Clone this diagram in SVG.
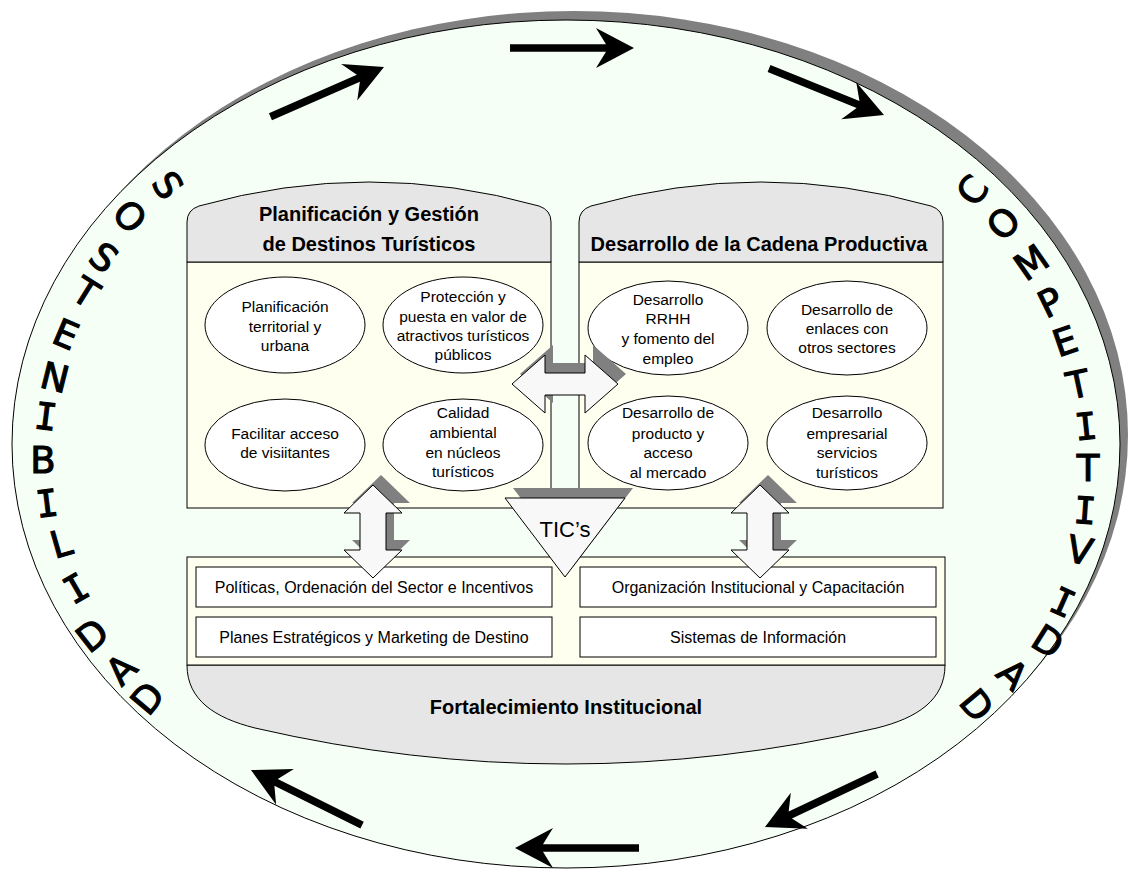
<svg xmlns="http://www.w3.org/2000/svg" width="1129" height="870" viewBox="0 0 1129 870">
<style>
.ln{stroke:#000;stroke-width:1}
.hdr{fill:#E6E6E6;stroke:#000;stroke-width:1}
.body{fill:#FFFFEF;stroke:#000;stroke-width:1}
.ell{fill:#FFFFFF;stroke:#000;stroke-width:1}
.box{fill:#FFFFFF;stroke:#000;stroke-width:1}
.shd{fill:#808080;stroke:none}
.arw{fill:#F8F8F8;stroke:#000;stroke-width:1}
.t{font-family:"Liberation Sans",Arial,sans-serif;font-size:15.5px;fill:#000;text-anchor:middle}
.tb{font-family:"Liberation Sans",Arial,sans-serif;font-size:16px;fill:#000;text-anchor:middle}
.title{font-family:"Liberation Sans",Arial,sans-serif;font-size:20px;font-weight:bold;fill:#000;text-anchor:middle}
.big{font-family:"DejaVu Sans",Verdana,sans-serif;font-size:37px;fill:#000;stroke:#000;stroke-width:1.1;text-anchor:middle}
.bigI{font-family:"DejaVu Sans Mono",monospace;font-size:37px;fill:#000;stroke:#000;stroke-width:1.1;text-anchor:middle}
.blk{fill:#000;stroke:none}
</style>
<defs>
<path id="ringArrow" d="M0,0 L-38,-20 L-28,-3.8 L-124,-3.8 L-124,3.8 L-28,3.8 L-38,20 Z"/>
<path id="vArrow" d="M0,-46.5 L29,-18.5 L13,-18.5 L13,18.5 L29,18.5 L0,46.5 L-29,18.5 L-13,18.5 L-13,-18.5 L-29,-18.5 Z"/>
</defs>

<g id="outer">
<ellipse cx="574" cy="435" rx="554" ry="424" fill="#808080"/>
<ellipse cx="566" cy="444" rx="554" ry="424" fill="#F5FFF5" stroke="#000" stroke-width="1"/>
</g>

<g id="ring-arrows">
<use href="#ringArrow" class="blk" transform="translate(384,67) rotate(-23.7)"/>
<use href="#ringArrow" class="blk" transform="translate(634,48)"/>
<use href="#ringArrow" class="blk" transform="translate(884,115) rotate(22)"/>
<use href="#ringArrow" class="blk" transform="translate(765,827) rotate(154.7)"/>
<use href="#ringArrow" class="blk" transform="translate(515,848) rotate(180)"/>
<use href="#ringArrow" class="blk" transform="translate(251,770) rotate(206.4)"/>
</g>

<g id="sostenibilidad">
<text class="big" transform="translate(168,185) rotate(55)" y="13.5">S</text>
<text class="big" transform="translate(130,216) rotate(46)" y="13.5">O</text>
<text class="big" transform="translate(104,257) rotate(38)" y="13.5">S</text>
<text class="big" transform="translate(86,292) rotate(32)" y="13.5">T</text>
<text class="big" transform="translate(66,334) rotate(23)" y="13.5">E</text>
<text class="big" transform="translate(55,377) rotate(14)" y="13.5">N</text>
<text class="bigI" transform="translate(46,416) rotate(7)" y="13.5">I</text>
<text class="big" transform="translate(43,459) rotate(0)" y="13.5">B</text>
<text class="bigI" transform="translate(47,503) rotate(-7)" y="13.5">I</text>
<text class="big" transform="translate(61,543) rotate(-16)" y="13.5">L</text>
<text class="bigI" transform="translate(76,588) rotate(-30)" y="13.5">I</text>
<text class="big" transform="translate(92,635) rotate(-38)" y="13.5">D</text>
<text class="big" transform="translate(121,669) rotate(-45)" y="13.5">A</text>
<text class="big" transform="translate(147,698) rotate(-50)" y="13.5">D</text>
</g>

<g id="competitividad">
<text class="big" transform="translate(972,190) rotate(-52)" y="13.5">C</text>
<text class="big" transform="translate(1003,223) rotate(-44)" y="13.5">O</text>
<text class="big" transform="translate(1031,262) rotate(-35)" y="13.5">M</text>
<text class="big" transform="translate(1050,302) rotate(-26)" y="13.5">P</text>
<text class="big" transform="translate(1065,341) rotate(-19)" y="13.5">E</text>
<text class="big" transform="translate(1078,384) rotate(-12)" y="13.5">T</text>
<text class="bigI" transform="translate(1086,426) rotate(-6)" y="13.5">I</text>
<text class="big" transform="translate(1088,467) rotate(0)" y="13.5">T</text>
<text class="bigI" transform="translate(1085,510) rotate(4)" y="13.5">I</text>
<text class="big" transform="translate(1080,550) rotate(12)" y="13.5">V</text>
<text class="bigI" transform="translate(1063,602) rotate(24)" y="13.5">I</text>
<text class="big" transform="translate(1048,641) rotate(32)" y="13.5">D</text>
<text class="big" transform="translate(1013,674) rotate(43)" y="13.5">A</text>
<text class="big" transform="translate(977,705) rotate(50)" y="13.5">D</text>
</g>

<g id="panel-planificacion">
<rect class="body" x="187" y="262" width="364" height="246"/>
<path class="hdr" d="M187,262 L187,222 Q187,210 199,206 Q369,158 539,206 Q551,210 551,222 L551,262 Z"/>
<text class="title" x="369" y="221">Planificación y Gestión</text>
<text class="title" x="369" y="251">de Destinos Turísticos</text>
</g>

<g id="panel-cadena">
<rect class="body" x="579" y="262" width="364" height="246"/>
<path class="hdr" d="M579,262 L579,222 Q579,210 591,206 Q761,158 931,206 Q943,210 943,222 L943,262 Z"/>
<text class="title" x="759" y="251">Desarrollo de la Cadena Productiva</text>
</g>

<g id="n-planif-territorial">
<ellipse class="ell" cx="285" cy="325" rx="80" ry="48"/>
<text class="t" x="285" y="312">Planificación</text>
<text class="t" x="285" y="332">territorial y</text>
<text class="t" x="285" y="351">urbana</text>
</g>
<g id="n-proteccion">
<ellipse class="ell" cx="463" cy="325" rx="80" ry="48"/>
<text class="t" x="463" y="302">Protección y</text>
<text class="t" x="463" y="322">puesta en valor de</text>
<text class="t" x="463" y="341">atractivos turísticos</text>
<text class="t" x="463" y="360">públicos</text>
</g>
<g id="n-facilitar">
<ellipse class="ell" cx="285" cy="445" rx="80" ry="46"/>
<text class="t" x="285" y="439">Facilitar acceso</text>
<text class="t" x="285" y="458">de visiitantes</text>
</g>
<g id="n-calidad">
<ellipse class="ell" cx="463" cy="445" rx="80" ry="46"/>
<text class="t" x="463" y="418">Calidad</text>
<text class="t" x="463" y="438">ambiental</text>
<text class="t" x="463" y="458">en núcleos</text>
<text class="t" x="463" y="477">turísticos</text>
</g>
<g id="n-rrhh">
<ellipse class="ell" cx="668" cy="328" rx="80" ry="47"/>
<text class="t" x="668" y="305">Desarrollo</text>
<text class="t" x="668" y="324">RRHH</text>
<text class="t" x="668" y="344">y fomento del</text>
<text class="t" x="668" y="364">empleo</text>
</g>
<g id="n-enlaces">
<ellipse class="ell" cx="847" cy="328" rx="80" ry="47"/>
<text class="t" x="847" y="315">Desarrollo de</text>
<text class="t" x="847" y="334">enlaces con</text>
<text class="t" x="847" y="353">otros sectores</text>
</g>
<g id="n-producto">
<ellipse class="ell" cx="668" cy="443" rx="80" ry="47"/>
<text class="t" x="668" y="418">Desarrollo de</text>
<text class="t" x="668" y="439">producto y</text>
<text class="t" x="668" y="458">acceso</text>
<text class="t" x="668" y="478">al mercado</text>
</g>
<g id="n-empresarial">
<ellipse class="ell" cx="847" cy="443" rx="80" ry="47"/>
<text class="t" x="847" y="418">Desarrollo</text>
<text class="t" x="847" y="439">empresarial</text>
<text class="t" x="847" y="458">servicios</text>
<text class="t" x="847" y="478">turísticos</text>
</g>

<g id="panel-fortalecimiento">
<path class="hdr" d="M187,665 C187,700 215,718 255,728 Q566,800 877,728 C917,718 945,700 945,665 Z"/>
<rect class="body" x="187" y="557" width="758" height="108"/>
<text class="title" x="566" y="714">Fortalecimiento Institucional</text>
</g>
<g id="n-politicas">
<rect class="box" x="196" y="567" width="356" height="40"/>
<text class="tb" x="374" y="593">Políticas, Ordenación del Sector e Incentivos</text>
</g>
<g id="n-organizacion">
<rect class="box" x="580" y="567" width="356" height="40"/>
<text class="tb" x="758" y="593">Organización Institucional y Capacitación</text>
</g>
<g id="n-planes">
<rect class="box" x="196" y="617" width="356" height="40"/>
<text class="tb" x="374" y="643">Planes Estratégicos y  Marketing de Destino</text>
</g>
<g id="n-sistemas">
<rect class="box" x="580" y="617" width="356" height="40"/>
<text class="tb" x="758" y="643">Sistemas de Información</text>
</g>

<g id="connectors">
<path class="shd" d="M520,374 L553,345 L553,363 L593,363 L593,345 L626,374 L593,403 L593,385 L553,385 L553,403 Z"/>
<path class="arw" d="M512,384 L545,355 L545,373 L585,373 L585,355 L618,384 L585,413 L585,395 L545,395 L545,413 Z"/>
<use href="#vArrow" class="shd" transform="translate(381,521.5)"/>
<use href="#vArrow" class="arw" transform="translate(373,531.5)"/>
<use href="#vArrow" class="shd" transform="translate(768,521.5)"/>
<use href="#vArrow" class="arw" transform="translate(760,531.5)"/>
</g>

<g id="n-tics">
<path class="shd" d="M513,488 L633,488 L573,567 Z"/>
<path class="arw" d="M505,498 L625,498 L565,577 Z"/>
<text x="565" y="537" style="font-family:'Liberation Sans',Arial,sans-serif;font-size:22px;text-anchor:middle;fill:#000">TIC’s</text>
</g>
</svg>
